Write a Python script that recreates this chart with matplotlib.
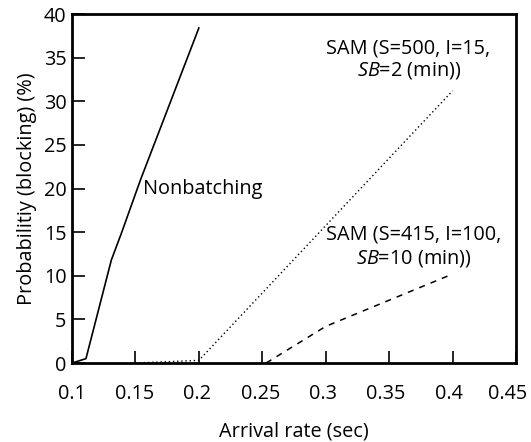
import matplotlib
matplotlib.use("Agg")
import matplotlib.pyplot as plt
import matplotlib.transforms as mtrans

plt.rcParams['font.family'] = ['Open Sans', 'DejaVu Sans']
plt.rcParams['mathtext.fontset'] = 'custom'
plt.rcParams['mathtext.rm'] = 'Open Sans'
plt.rcParams['mathtext.it'] = 'Open Sans:italic'

nonbatch_x = [0.1, 0.111, 0.131, 0.139, 0.154, 0.2]
nonbatch_y = [0.0, 0.5, 11.8, 14.9, 21.0, 38.4]

sam500_x = [0.15, 0.2, 0.4]
sam500_y = [0.0, 0.3, 31.2]

sam415_x = [0.253, 0.3, 0.4]
sam415_y = [0.0, 4.2, 10.2]

xticks = [0.1, 0.15, 0.2, 0.25, 0.3, 0.35, 0.4, 0.45]
xticklabels = ['0.1', '0.15', '0.2', '0.25', '0.3', '0.35', '0.4', '0.45']
yticks = [0, 5, 10, 15, 20, 25, 30, 35, 40]

fs = 14.3

fig = plt.figure(figsize=(5.31, 4.42), dpi=100)
ax = fig.add_axes([0.1356, 0.1787, 0.9718 - 0.1356, 0.9683 - 0.1787])

ax.plot(nonbatch_x, nonbatch_y, color='black', lw=1.2, linestyle='-')
ax.plot(sam500_x, sam500_y, color='black', lw=1.0, linestyle=(0, (1, 2)))
ax.plot(sam415_x, sam415_y, color='black', lw=1.1, linestyle=(0, (4, 4)))

ax.set_xlim(0.1, 0.45)
ax.set_ylim(0, 40)
ax.set_xticks(xticks)
ax.set_xticklabels(xticklabels)
ax.set_yticks(yticks)
ax.tick_params(direction='in', length=9, width=1.2, labelsize=fs)
ax.tick_params(axis='x', pad=15)
ax.tick_params(axis='y', pad=4)
for s in ax.spines.values():
    s.set_linewidth(2)

# shift x labels slightly left, last one kept inside the figure, as in the reference
offs = [0, -1, -1.5, -2, -3, -3.5, -4, -8]
for lab, o in zip(ax.get_xticklabels(), offs):
    lab.set_transform(lab.get_transform() + mtrans.ScaledTranslation(o / 100, 0, fig.dpi_scale_trans))

ax.set_xlabel('Arrival rate (sec)', fontsize=fs, labelpad=13)
ax.set_ylabel('Probabilitiy (blocking) (%)', fontsize=fs, labelpad=5)

ax.text(0.156, 20.0, 'Nonbatching', fontsize=fs, va='center', ha='left')
ax.text(0.365, 36.0, 'SAM (S=500, I=15,', fontsize=fs, va='center', ha='center')
ax.text(0.3656, 33.5, r'$\it{SB}$=2 (min))', fontsize=fs, va='center', ha='center')
ax.text(0.369, 14.7, 'SAM (S=415, I=100,', fontsize=fs, va='center', ha='center')
ax.text(0.3696, 12.0, r'$\it{SB}$=10 (min))', fontsize=fs, va='center', ha='center')

fig.savefig('out.png', dpi=100)
